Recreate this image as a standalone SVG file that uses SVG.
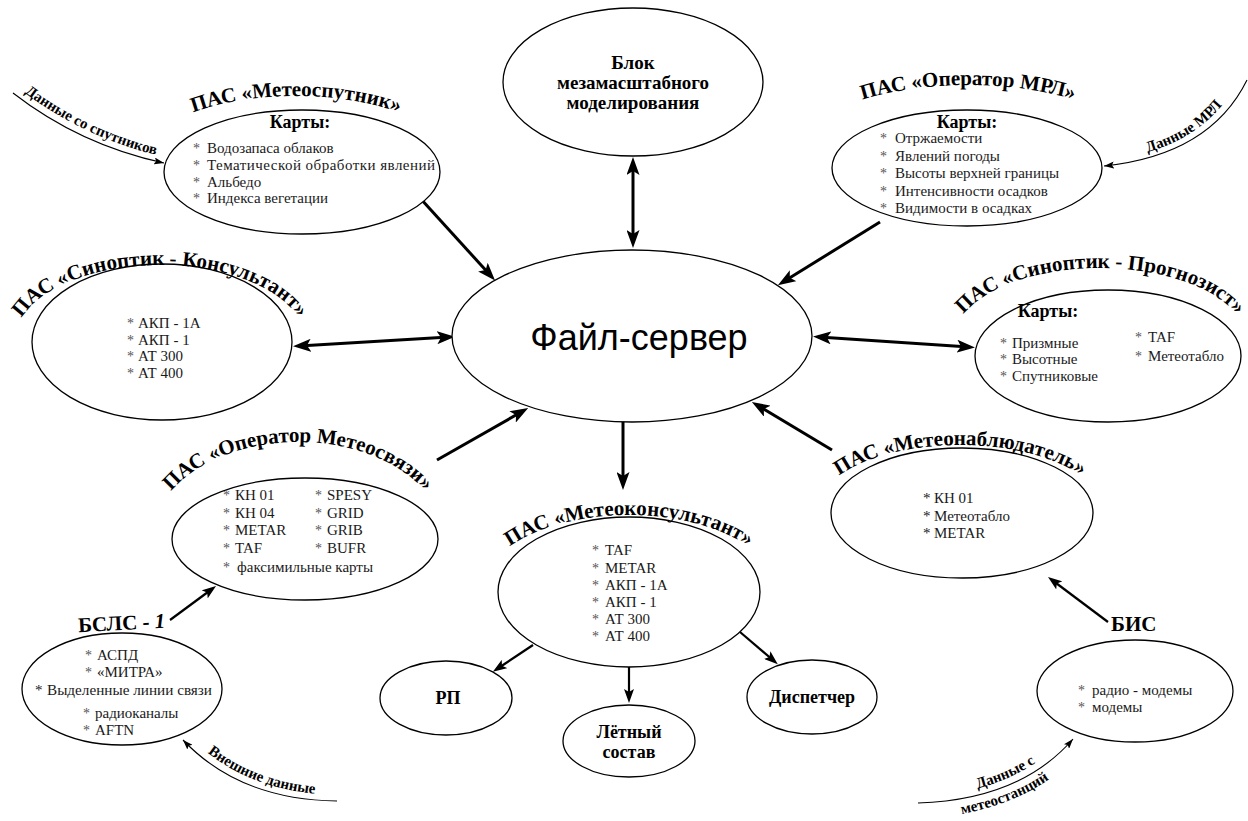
<svg xmlns="http://www.w3.org/2000/svg" xmlns:xlink="http://www.w3.org/1999/xlink" width="1248" height="821" viewBox="0 0 1248 821">
<style>
.n{fill:#fff;stroke:#000;stroke-width:1.3}
.t{font-family:"Liberation Serif","Times New Roman",serif;font-size:15px;fill:#1a1a1a}
.s{font-family:"Liberation Serif","Times New Roman",serif;font-size:14px;fill:#555}
.ttl{font-family:"Liberation Serif","Times New Roman",serif;font-size:21px;font-weight:bold;fill:#000}
.b{font-family:"Liberation Serif","Times New Roman",serif;font-size:18px;font-weight:bold;fill:#000;text-anchor:middle}
.bl{font-family:"Liberation Serif","Times New Roman",serif;font-size:19px;font-weight:bold;fill:#000;text-anchor:middle}
.in{font-family:"Liberation Serif","Times New Roman",serif;font-size:15px;font-weight:bold;fill:#000}
.fs{font-family:"Liberation Sans",Arial,sans-serif;font-size:36px;fill:#000;text-anchor:middle}
.c{stroke:#000;stroke-width:3;fill:none}
.c2{stroke:#000;stroke-width:2.2;fill:none}
.th{stroke:#000;stroke-width:1.1;fill:none}
</style>
<defs>
<marker id="ah" markerUnits="userSpaceOnUse" viewBox="0 0 18 13" markerWidth="18" markerHeight="13" refX="12" refY="6.5" orient="auto-start-reverse"><path d="M0,0 L18,6.5 L0,13 L4,6.5 z" fill="#000"/></marker>
<marker id="ah2" markerUnits="userSpaceOnUse" viewBox="0 0 14 10" markerWidth="14" markerHeight="10" refX="9" refY="5" orient="auto-start-reverse"><path d="M0,0 L14,5 L0,10 L3,5 z" fill="#000"/></marker>
<marker id="ah3" markerUnits="userSpaceOnUse" viewBox="0 0 10 7" markerWidth="10" markerHeight="7" refX="10" refY="3.5" orient="auto"><path d="M0,0 L10,3.5 L0,7 L2,3.5 z" fill="#000"/></marker>
<path id="tp_sput" d="M 122 180 A 174 84 0 0 1 470 180"/>
<path id="tp_mrl" d="M 782 168 A 186 83 0 0 1 1154 168"/>
<path id="tp_kons" d="M 14 342 A 146 77 0 0 1 306 342"/>
<path id="tp_progn" d="M 952 343 A 148 75 0 0 1 1100 268 A 148 75 0 0 1 1238 316"/>
<path id="tp_svyaz" d="M 152 539 A 146 97 0 0 1 444 539"/>
<path id="tp_mkons" d="M 481 592 A 148 77 0 0 1 777 592"/>
<path id="tp_nabl" d="M 815 513 A 145 68 0 0 1 1105 513"/>
<path id="tp_in1" d="M 17 87 Q 84 139 165 157"/>
<path id="tp_in2" d="M 1107 160 Q 1204 150 1241 76"/>
<path id="tp_in3" d="M 189 736 Q 245 794 340 795"/>
<path id="tp_in4a" d="M 918 797 Q 1017 793 1068 734"/>
<path id="tp_in4b" d="M 925 819 Q 1030 810 1082 750"/>
</defs>
<rect width="1248" height="821" fill="#fff"/>

<g id="connectors">
<line class="c" x1="420" y1="198" x2="491" y2="276" marker-end="url(#ah)"/>
<line class="c" x1="880" y1="222" x2="783" y2="282" marker-end="url(#ah)"/>
<line class="c" x1="633" y1="163" x2="633" y2="242" marker-start="url(#ah)" marker-end="url(#ah)"/>
<line class="c" x1="299" y1="346" x2="449" y2="337" marker-start="url(#ah)" marker-end="url(#ah)"/>
<line class="c" x1="819" y1="337" x2="969" y2="347" marker-start="url(#ah)" marker-end="url(#ah)"/>
<line class="c" x1="437" y1="460" x2="523" y2="411" marker-end="url(#ah)"/>
<line class="c" x1="832" y1="450" x2="757" y2="405" marker-end="url(#ah)"/>
<line class="c" x1="623" y1="422" x2="623" y2="484" marker-end="url(#ah)"/>
<line class="c2" x1="533" y1="645" x2="497" y2="669" marker-end="url(#ah2)"/>
<line class="c2" x1="629" y1="667" x2="629" y2="698" marker-end="url(#ah2)"/>
<line class="c2" x1="740" y1="632" x2="774" y2="661" marker-end="url(#ah2)"/>
<line class="c2" x1="170" y1="620" x2="212" y2="589" marker-end="url(#ah2)"/>
<line class="c2" x1="1108" y1="622" x2="1052" y2="580" marker-end="url(#ah2)"/>
<path class="th" d="M 13 93 Q 80 145 164 163" marker-end="url(#ah3)"/>
<path class="th" d="M 1247 80 Q 1210 155 1104 166" marker-end="url(#ah3)"/>
<path class="th" d="M 337 801 Q 240 800 183 740" marker-end="url(#ah3)"/>
<path class="th" d="M 918 803 Q 1020 800 1073 739" marker-end="url(#ah3)"/>
<text class="in"><textPath xlink:href="#tp_in1" href="#tp_in1" startOffset="50%" text-anchor="middle">Данные со спутников</textPath></text>
<text class="in"><textPath xlink:href="#tp_in2" href="#tp_in2" startOffset="52%" text-anchor="middle">Данные МРЛ</textPath></text>
<text class="in"><textPath xlink:href="#tp_in3" href="#tp_in3" startOffset="50%" text-anchor="middle">Внешние данные</textPath></text>
<text class="in"><textPath xlink:href="#tp_in4a" href="#tp_in4a" startOffset="55%" text-anchor="middle">Данные с</textPath></text>
<text class="in"><textPath xlink:href="#tp_in4b" href="#tp_in4b" startOffset="48%" text-anchor="middle">метеостанций</textPath></text>
</g>

<g id="file-server">
<ellipse class="n" cx="632" cy="336" rx="180" ry="86"/>
<text class="fs" x="639" y="350">Файл-сервер</text>
</g>

<g id="blok-model">
<ellipse class="n" cx="633" cy="82" rx="130" ry="74"/>
<text class="bl" x="633" y="69">Блок</text>
<text class="bl" x="633" y="89">мезамасштабного</text>
<text class="bl" x="633" y="109">моделирования</text>
</g>

<g id="pas-meteosputnik">
<ellipse class="n" cx="302" cy="172" rx="138" ry="62"/>
<text class="ttl"><textPath xlink:href="#tp_sput" href="#tp_sput" startOffset="50%" text-anchor="middle">ПАС «Метеоспутник»</textPath></text>
<text class="b" x="300" y="128">Карты:</text>
<text class="t"><tspan class="s" x="193" y="153">*</tspan><tspan x="207" y="153">Водозапаса облаков</tspan></text>
<text class="t"><tspan class="s" x="193" y="170">*</tspan><tspan x="207" y="170" textLength="228" lengthAdjust="spacing">Тематической обработки явлений</tspan></text>
<text class="t"><tspan class="s" x="193" y="187">*</tspan><tspan x="207" y="187">Альбедо</tspan></text>
<text class="t"><tspan class="s" x="193" y="203">*</tspan><tspan x="207" y="203">Индекса вегетации</tspan></text>
</g>

<g id="pas-operator-mrl">
<ellipse class="n" cx="967" cy="168" rx="135" ry="58"/>
<text class="ttl"><textPath xlink:href="#tp_mrl" href="#tp_mrl" startOffset="50%" text-anchor="middle">ПАС «Оператор МРЛ»</textPath></text>
<text class="b" x="967" y="128">Карты:</text>
<text class="t"><tspan class="s" x="880" y="143">*</tspan><tspan x="895" y="143">Отржаемости</tspan></text>
<text class="t"><tspan class="s" x="880" y="160.5">*</tspan><tspan x="895" y="160.5">Явлений погоды</tspan></text>
<text class="t"><tspan class="s" x="880" y="178">*</tspan><tspan x="895" y="178">Высоты верхней границы</tspan></text>
<text class="t"><tspan class="s" x="880" y="195.5">*</tspan><tspan x="895" y="195.5">Интенсивности осадков</tspan></text>
<text class="t"><tspan class="s" x="880" y="213">*</tspan><tspan x="895" y="213">Видимости в осадках</tspan></text>
</g>

<g id="pas-sinoptik-konsultant">
<ellipse class="n" cx="162" cy="342" rx="130" ry="78"/>
<text class="ttl"><textPath xlink:href="#tp_kons" href="#tp_kons" startOffset="50%" text-anchor="middle">ПАС «Синоптик - Консультант»</textPath></text>
<text class="t"><tspan class="s" x="127" y="328">*</tspan><tspan x="138" y="328">АКП - 1А</tspan></text>
<text class="t"><tspan class="s" x="127" y="345">*</tspan><tspan x="138" y="345">АКП - 1</tspan></text>
<text class="t"><tspan class="s" x="127" y="361">*</tspan><tspan x="138" y="361">АТ 300</tspan></text>
<text class="t"><tspan class="s" x="127" y="378">*</tspan><tspan x="138" y="378">АТ 400</tspan></text>
</g>

<g id="pas-sinoptik-prognozist">
<ellipse class="n" cx="1108" cy="356" rx="133" ry="66"/>
<text class="ttl" font-size="20"><textPath xlink:href="#tp_progn" href="#tp_progn" startOffset="180" text-anchor="middle">ПАС «Синоптик - Прогнозист»</textPath></text>
<text class="b" x="1048" y="317">Карты:</text>
<text class="t"><tspan class="s" x="1000" y="348">*</tspan><tspan x="1012" y="348">Призмные</tspan></text>
<text class="t"><tspan class="s" x="1000" y="364">*</tspan><tspan x="1012" y="364">Высотные</tspan></text>
<text class="t"><tspan class="s" x="1000" y="381">*</tspan><tspan x="1012" y="381">Спутниковые</tspan></text>
<text class="t"><tspan class="s" x="1135" y="342">*</tspan><tspan x="1148" y="342">TAF</tspan></text>
<text class="t"><tspan class="s" x="1135" y="361">*</tspan><tspan x="1148" y="361">Метеотабло</tspan></text>
</g>

<g id="pas-operator-meteosvyazi">
<ellipse class="n" cx="305" cy="539" rx="133" ry="61"/>
<text class="ttl"><textPath xlink:href="#tp_svyaz" href="#tp_svyaz" startOffset="50%" text-anchor="middle">ПАС «Оператор Метеосвязи»</textPath></text>
<text class="t"><tspan class="s" x="223" y="500">*</tspan><tspan x="235" y="500">КН 01</tspan><tspan class="s" x="315" y="500">*</tspan><tspan x="327" y="500">SPESY</tspan></text>
<text class="t"><tspan class="s" x="223" y="518">*</tspan><tspan x="235" y="518">КН 04</tspan><tspan class="s" x="315" y="518">*</tspan><tspan x="327" y="518">GRID</tspan></text>
<text class="t"><tspan class="s" x="223" y="535">*</tspan><tspan x="235" y="535">METAR</tspan><tspan class="s" x="315" y="535">*</tspan><tspan x="327" y="535">GRIB</tspan></text>
<text class="t"><tspan class="s" x="223" y="553">*</tspan><tspan x="235" y="553">TAF</tspan><tspan class="s" x="315" y="553">*</tspan><tspan x="327" y="553">BUFR</tspan></text>
<text class="t"><tspan class="s" x="223" y="572">*</tspan><tspan x="237" y="572">факсимильные карты</tspan></text>
</g>

<g id="pas-meteokonsultant">
<ellipse class="n" cx="629" cy="592" rx="131" ry="75"/>
<text class="ttl"><textPath xlink:href="#tp_mkons" href="#tp_mkons" startOffset="50%" text-anchor="middle">ПАС «Метеоконсультант»</textPath></text>
<text class="t"><tspan class="s" x="592" y="555">*</tspan><tspan x="605" y="555">TAF</tspan></text>
<text class="t"><tspan class="s" x="592" y="573">*</tspan><tspan x="605" y="573">METAR</tspan></text>
<text class="t"><tspan class="s" x="592" y="590">*</tspan><tspan x="605" y="590">АКП - 1А</tspan></text>
<text class="t"><tspan class="s" x="592" y="607">*</tspan><tspan x="605" y="607">АКП - 1</tspan></text>
<text class="t"><tspan class="s" x="592" y="624">*</tspan><tspan x="605" y="624">АТ 300</tspan></text>
<text class="t"><tspan class="s" x="592" y="641">*</tspan><tspan x="605" y="641">АТ 400</tspan></text>
</g>

<g id="pas-meteonablyudatel">
<ellipse class="n" cx="962" cy="513" rx="131" ry="65"/>
<text class="ttl"><textPath xlink:href="#tp_nabl" href="#tp_nabl" startOffset="50%" text-anchor="middle">ПАС «Метеонаблюдатель»</textPath></text>
<text class="t"><tspan x="923" y="503">*</tspan><tspan x="934" y="503">КН 01</tspan></text>
<text class="t"><tspan x="923" y="521">*</tspan><tspan x="934" y="521">Метеотабло</tspan></text>
<text class="t"><tspan x="923" y="538">*</tspan><tspan x="934" y="538">METAR</tspan></text>
</g>

<g id="bsls-1">
<ellipse class="n" cx="122" cy="689" rx="100" ry="56"/>
<text class="ttl" x="122" y="630" text-anchor="middle" font-size="22" transform="rotate(-3 122 630)">БСЛС - <tspan font-style="italic">1</tspan></text>
<text class="t"><tspan class="s" x="85" y="660">*</tspan><tspan x="97" y="660">АСПД</tspan></text>
<text class="t"><tspan class="s" x="85" y="677">*</tspan><tspan x="97" y="677">«МИТРА»</tspan></text>
<text class="t"><tspan x="35" y="695">*</tspan><tspan x="47" y="695" textLength="165" lengthAdjust="spacingAndGlyphs">Выделенные линии связи</tspan></text>
<text class="t"><tspan class="s" x="83" y="718">*</tspan><tspan x="95" y="718">радиоканалы</tspan></text>
<text class="t"><tspan class="s" x="83" y="735">*</tspan><tspan x="95" y="735">AFTN</tspan></text>
</g>

<g id="bis">
<ellipse class="n" cx="1135" cy="691" rx="98" ry="51"/>
<text class="ttl" x="1111" y="631" font-size="22">БИС</text>
<text class="t"><tspan class="s" x="1078" y="695">*</tspan><tspan x="1092" y="695">радио - модемы</tspan></text>
<text class="t"><tspan class="s" x="1078" y="712">*</tspan><tspan x="1092" y="712">модемы</tspan></text>
</g>

<g id="rp">
<ellipse class="n" cx="446" cy="698" rx="66" ry="37"/>
<text class="b" x="448" y="704">РП</text>
</g>

<g id="letny-sostav">
<ellipse class="n" cx="629" cy="741" rx="66" ry="36"/>
<text class="b" x="629" y="738">Лётный</text>
<text class="b" x="629" y="758">состав</text>
</g>

<g id="dispetcher">
<ellipse class="n" cx="812" cy="697" rx="65" ry="37"/>
<text class="b" x="812" y="703">Диспетчер</text>
</g>
</svg>
